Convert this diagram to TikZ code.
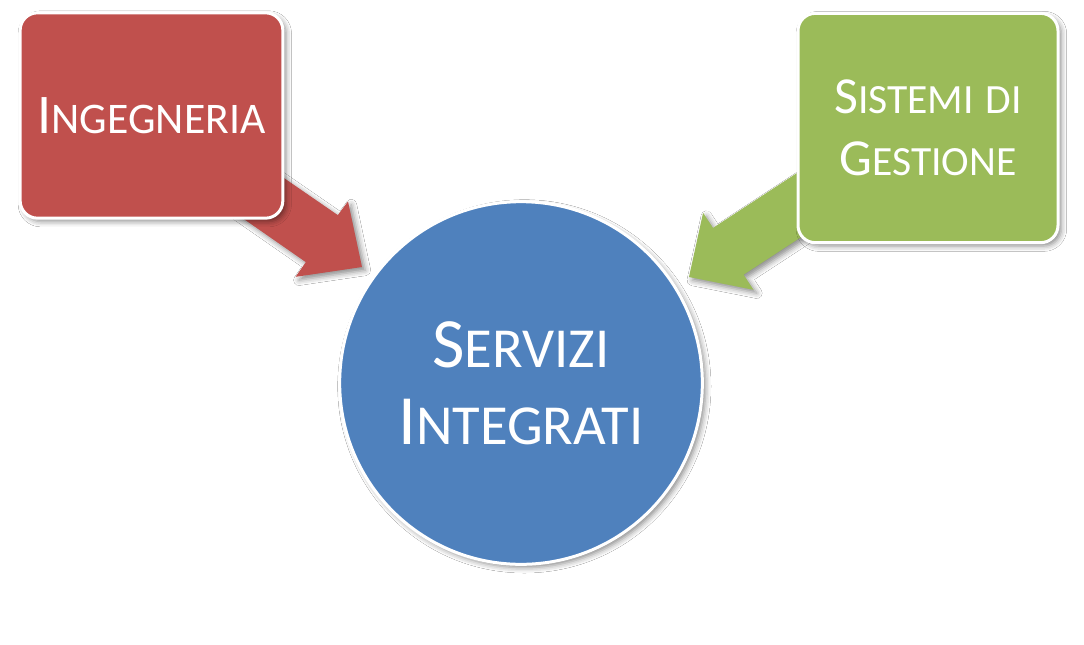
\documentclass[tikz,border=0pt]{standalone}
\usepackage{fontspec}
\setmainfont{Carlito}
\usetikzlibrary{shadows.blur}
\makeatletter
\newcommand\smc[1]{{\fontsize{\the\dimexpr0.78\dimexpr\f@size pt\relax\relax}{0pt}\selectfont#1}}
\newcommand\smcb[1]{{\fontsize{\the\dimexpr0.8\dimexpr\f@size pt\relax\relax}{0pt}\selectfont#1}}
\makeatother
\definecolor{offred}{HTML}{C0504D}
\definecolor{offgreen}{HTML}{9BBB59}
\definecolor{offblue}{HTML}{4F81BD}
\begin{document}
\begin{tikzpicture}[x=0.75pt,y=-0.75pt,
  shad/.style={blur shadow={shadow xshift=2.5pt,shadow yshift=-2.5pt,shadow blur radius=4pt,shadow opacity=45}},
  box/.style={draw=white,line width=2.25pt,rounded corners=13pt,text=white,inner sep=0pt,align=center,shad},
  bigarrow/.style={shad}]
\fill[white] (0,0) rectangle (1084,644);
\useasboundingbox (0,0) rectangle (1084,644);
% block arrows (behind the boxes)
\fill[offred,bigarrow] (141.8,148.1) -- (305.8,262.1) -- (295.6,276.8) -- (362,267) -- (348,201.4) -- (337.8,215.1) -- (173.8,102.1) -- cycle;
\fill[offgreen,bigarrow] (911,165.3) -- (743.6,274.7) -- (753.5,289.8) -- (689,277) -- (703.1,212.8) -- (713,227.9) -- (880.4,118.5) -- cycle;
% boxes
\node[box,fill=offred,minimum width=197pt,minimum height=154pt,font=\fontsize{42pt}{50pt}\selectfont] (ing) at (151.5,115.5) {I\smc{NGEGNERIA}};
\node[box,fill=offgreen,minimum width=195pt,minimum height=172pt,font=\fontsize{39pt}{46.5pt}\selectfont] (sis) at (928,128) {S\smcb{ISTEMI} \smcb{DI}\\G\smcb{ESTIONE}};
\node[box,circle,fill=offblue,minimum size=272pt,font=\fontsize{53pt}{58pt}\selectfont] (ser) at (521,383) {S\smcb{ERVIZI}\\I\smcb{NTEGRATI}};
\end{tikzpicture}
\end{document}
